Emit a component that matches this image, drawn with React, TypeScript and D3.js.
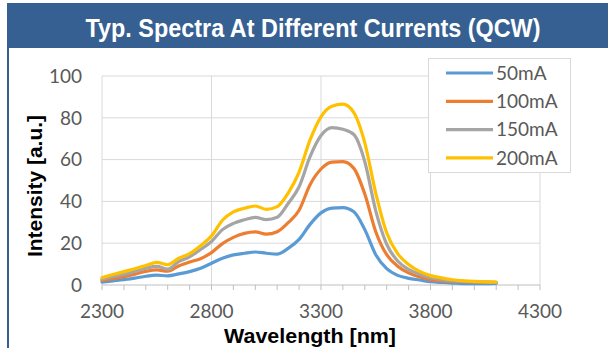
import React, { useEffect, useRef } from "react";
import * as d3 from "d3";

// wavelength in nm
const wavelengths = [
  2300, 2350, 2400, 2450, 2500, 2550, 2600, 2650, 2700, 2750, 2800, 2850, 2900,
  2950, 3000, 3050, 3100, 3150, 3200, 3250, 3300, 3350, 3400, 3450, 3500, 3550,
  3600, 3650, 3700, 3750, 3800, 3850, 3900, 3950, 4000, 4050, 4100,
];

const current50 = [
  1.4, 2.0, 2.6, 3.3, 4.2, 4.7, 4.4, 5.3, 6.4, 8.0, 10.4, 12.8, 14.4, 15.2,
  15.8, 15.2, 14.8, 17.5, 21.8, 29.0, 34.5, 36.8, 37.0, 35.0, 26.5, 14.5, 7.8,
  4.6, 3.2, 2.4, 1.6, 1.2, 0.9, 0.7, 0.7, 0.7, 0.8,
];
const current100 = [
  2.2, 3.0, 4.0, 5.2, 6.5, 7.2, 6.6, 9.1, 11.0, 12.6, 15.5, 19.8, 22.8, 24.7,
  25.4, 24.3, 25.5, 29.8, 35.8, 48.0, 55.5, 58.8, 59.0, 55.8, 43.5, 25.5, 14.5,
  9.0, 5.8, 3.8, 2.6, 2.0, 1.7, 1.5, 1.4, 1.3, 1.2,
];
const current150 = [
  2.8, 4.0, 5.1, 6.5, 8.0, 8.9, 7.6, 11.2, 13.5, 17.0, 20.8, 26.5, 29.5, 31.2,
  32.4, 31.3, 32.4, 39.0, 47.0, 61.4, 71.5, 75.3, 74.5, 72.0, 59.0, 35.5, 19.5,
  11.5, 7.5, 5.2, 3.5, 2.6, 2.0, 1.7, 1.5, 1.4, 1.3,
];
const current200 = [
  3.5, 5.0, 6.4, 7.8, 9.3, 10.8, 9.7, 12.8, 15.0, 18.8, 23.5, 31.0, 35.0, 36.7,
  37.8, 36.2, 37.5, 44.0, 54.0, 69.4, 80.5, 85.5, 86.5, 82.5, 68.0, 44.0, 25.0,
  15.0, 9.8, 6.5, 4.5, 3.4, 2.5, 2.0, 1.7, 1.5, 1.4,
];

const seriesNames = ["50mA", "100mA", "150mA", "200mA"];
const seriesValues = [current50, current100, current150, current200];
const seriesColors = ["#5B9BD5", "#ED7D31", "#A5A5A5", "#FFC000"];

const xTicks = [2300, 2800, 3300, 3800, 4300];
const yTicks = [0, 20, 40, 60, 80, 100];

const title = "Typ. Spectra At Different Currents (QCW)";
const xTitle = "Wavelength [nm]";
const yTitle = "Intensity [a.u.]";

const W = 608;
const H = 348;

const SpectraChart = () => {
  const ref = useRef<SVGSVGElement>(null);

  useEffect(() => {
    const svg = d3.select(ref.current);
    svg.selectAll("*").remove();

    const blue = "#366092";
    const tickFont = "Lato, 'Open Sans', sans-serif";
    const boldFont = "'Liberation Sans', Arial, sans-serif";

    // header bar + left rule
    svg
      .append("rect")
      .attr("x", 7)
      .attr("y", 3)
      .attr("width", W - 7)
      .attr("height", 45)
      .attr("fill", blue);
    svg
      .append("rect")
      .attr("x", 7)
      .attr("y", 48)
      .attr("width", 2)
      .attr("height", H - 48)
      .attr("fill", blue);

    svg
      .append("text")
      .attr("x", 313)
      .attr("y", 37)
      .attr("text-anchor", "middle")
      .attr("textLength", 455)
      .attr("lengthAdjust", "spacingAndGlyphs")
      .style("font-family", boldFont)
      .style("font-weight", "bold")
      .style("font-size", "25px")
      .style("fill", "#ffffff")
      .text(title);

    const x = d3.scaleLinear().domain([2300, 4300]).range([102, 540]);
    const y = d3.scaleLinear().domain([0, 100]).range([285, 76]);

    // gridlines
    svg
      .append("g")
      .selectAll("line")
      .data(yTicks.slice(1))
      .join("line")
      .attr("x1", x(2300))
      .attr("x2", x(4300))
      .attr("y1", (d) => y(d))
      .attr("y2", (d) => y(d))
      .style("stroke", "#D9D9D9")
      .style("stroke-width", 1);
    svg
      .append("g")
      .selectAll("line")
      .data(xTicks)
      .join("line")
      .attr("x1", (d) => x(d))
      .attr("x2", (d) => x(d))
      .attr("y1", y(0))
      .attr("y2", y(100))
      .style("stroke", "#D9D9D9")
      .style("stroke-width", 1);

    // x axis with a tick every 100 nm
    svg
      .append("line")
      .attr("x1", x(2300))
      .attr("x2", x(4300))
      .attr("y1", y(0))
      .attr("y2", y(0))
      .style("stroke", "#BFBFBF")
      .style("stroke-width", 1);
    svg
      .append("g")
      .selectAll("line")
      .data(x.ticks(20))
      .join("line")
      .attr("x1", (d) => x(d))
      .attr("x2", (d) => x(d))
      .attr("y1", y(0))
      .attr("y2", y(0) + 5)
      .style("stroke", "#BFBFBF");

    svg
      .append("g")
      .selectAll("text")
      .data(xTicks)
      .join("text")
      .attr("x", (d) => x(d))
      .attr("y", 318)
      .attr("text-anchor", "middle")
      .style("font-family", tickFont)
      .style("font-size", "19px")
      .style("fill", "#595959")
      .text((d) => d);

    svg
      .append("g")
      .selectAll("text")
      .data(yTicks)
      .join("text")
      .attr("x", 82)
      .attr("y", (d) => y(d))
      .attr("dy", "0.36em")
      .attr("text-anchor", "end")
      .style("font-family", tickFont)
      .style("font-size", "19px")
      .style("fill", "#595959")
      .text((d) => d);

    // axis titles
    svg
      .append("text")
      .attr("x", 310)
      .attr("y", 343)
      .attr("text-anchor", "middle")
      .attr("textLength", 172)
      .attr("lengthAdjust", "spacingAndGlyphs")
      .style("font-family", boldFont)
      .style("font-weight", "bold")
      .style("font-size", "20px")
      .style("fill", "#000000")
      .text(xTitle);

    svg
      .append("text")
      .attr("transform", "translate(42,186) rotate(-90)")
      .attr("text-anchor", "middle")
      .attr("textLength", 142)
      .attr("lengthAdjust", "spacingAndGlyphs")
      .style("font-family", boldFont)
      .style("font-weight", "bold")
      .style("font-size", "20px")
      .style("fill", "#000000")
      .text(yTitle);

    // spectra
    const line = d3
      .line<number>()
      .x((_, i) => x(wavelengths[i]))
      .y((d) => y(d))
      .curve(d3.curveMonotoneX);

    seriesValues.forEach((vals, i) => {
      svg
        .append("path")
        .datum(vals)
        .attr("d", line)
        .style("fill", "none")
        .style("stroke", seriesColors[i])
        .style("stroke-width", 3.2)
        .style("stroke-linejoin", "round")
        .style("stroke-linecap", "round");
    });

    // legend
    const legend = svg.append("g");
    legend
      .append("rect")
      .attr("x", 428.5)
      .attr("y", 58.5)
      .attr("width", 142)
      .attr("height", 114)
      .style("fill", "#ffffff")
      .style("stroke", "#D9D9D9");

    seriesNames.forEach((name, i) => {
      const ly = 73 + i * 28.3;
      legend
        .append("line")
        .attr("x1", 446)
        .attr("x2", 493)
        .attr("y1", ly)
        .attr("y2", ly)
        .style("stroke", seriesColors[i])
        .style("stroke-width", 3.2);
      legend
        .append("text")
        .attr("x", 496)
        .attr("y", ly)
        .attr("dy", "0.36em")
        .style("font-family", tickFont)
        .style("font-size", "19px")
        .style("fill", "#595959")
        .text(name);
    });
  }, []);

  return (
    <svg
      ref={ref}
      width={W}
      height={H}
      style={{ position: "absolute", left: 0, top: 0, background: "#fff" }}
    ></svg>
  );
};

export default function App() {
  return <SpectraChart />;
}
